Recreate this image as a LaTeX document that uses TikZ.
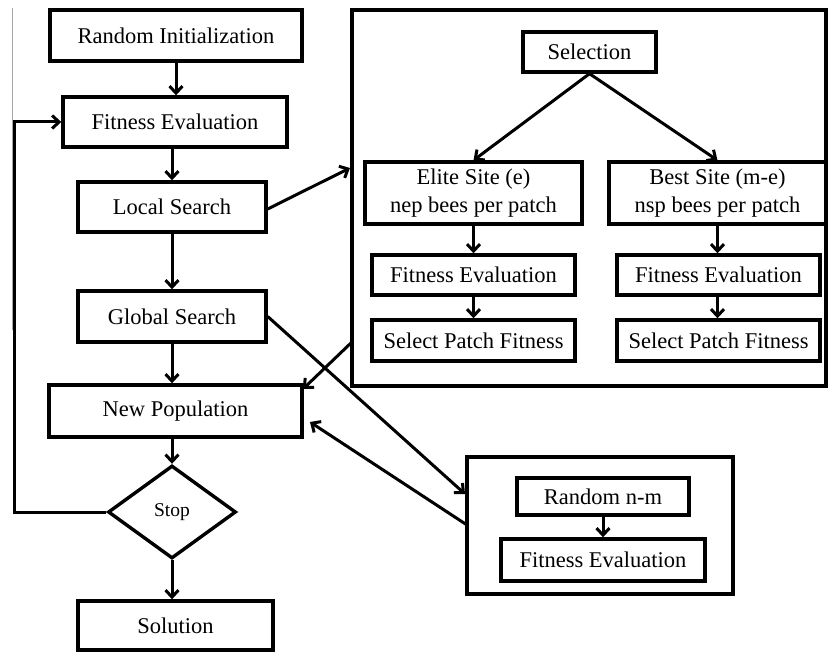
\documentclass[tikz,border=0pt]{standalone}
\usepackage{fontspec}
\setmainfont{Liberation Serif}
\usetikzlibrary{arrows.meta,shapes.geometric}
\begin{document}
\begin{tikzpicture}[x=1pt,y=-1pt,
  box/.style={draw,line width=3.4pt,rectangle,inner sep=0pt,font=\fontsize{22.5}{28}\selectfont,align=center},
  frame/.style={draw,line width=3.4pt,rectangle,inner sep=0pt},
  arr/.style={line width=3pt,-{Straight Barb[length=7pt,width=13pt,line width=3pt]}}]
\useasboundingbox (0,0) rectangle (828,652);
% scan edge line
\draw[gray!70,line width=1pt] (12,8) -- (12,330);
% main column
\node[box,minimum width=252pt,minimum height=51pt] (init) at (176,35.5) {Random Initialization};
\node[box,minimum width=224pt,minimum height=50pt] (fit) at (175,122) {Fitness Evaluation};
\node[box,minimum width=188pt,minimum height=50pt] (local) at (172,207) {Local Search};
\node[box,minimum width=188pt,minimum height=51pt] (global) at (172,316.5) {Global Search};
\node[box,minimum width=253pt,minimum height=52pt] (newpop) at (175.5,411) {New Population};
\node[draw,line width=3.4pt,diamond,inner sep=0pt,minimum width=128pt,minimum height=93pt,font=\fontsize{19.5}{22}\selectfont] (stop) at (172,512) {Stop};
\node[box,minimum width=195pt,minimum height=49pt] (sol) at (175.5,625.5) {Solution};
% right big frame
\node[frame,minimum width=474pt,minimum height=376pt] (bigR) at (589,198) {};
\node[box,minimum width=133pt,minimum height=40pt] (selc) at (589.5,52) {Selection};
\node[box,minimum width=217pt,minimum height=62pt] (elite) at (473.5,193) {Elite Site (e)\\nep bees per patch};
\node[box,minimum width=217pt,minimum height=62pt] (best) at (717.5,193) {Best Site (m-e)\\nsp bees per patch};
\node[box,minimum width=203pt,minimum height=40pt] (fitL) at (473.5,275) {Fitness Evaluation};
\node[box,minimum width=203pt,minimum height=41pt] (selL) at (473.5,340.5) {Select Patch Fitness};
\node[box,minimum width=203pt,minimum height=40pt] (fitR) at (718.5,275) {Fitness Evaluation};
\node[box,minimum width=203pt,minimum height=41pt] (selR) at (718.5,340.5) {Select Patch Fitness};
% lower right frame
\node[frame,minimum width=266pt,minimum height=137pt] (lowR) at (600,525.5) {};
\node[box,minimum width=172pt,minimum height=37pt] (rnm) at (603,496.5) {Random n-m};
\node[box,minimum width=204pt,minimum height=42pt] (fitLR) at (603,560) {Fitness Evaluation};
% coordinates on frames
\coordinate (bigIn) at (350,168);
\coordinate (bigOut) at (352,342);
\coordinate (npIn1) at (303,389);
\coordinate (lowIn) at (465,494);
\coordinate (lowOut) at (467,525);
\coordinate (npIn2) at (310,422);
\coordinate (fb) at (14,512);
% main arrows
\draw[arr] (init.south) -- (init.south |- fit.north);
\draw[arr] (local.north |- fit.south) -- (local.north);
\draw[arr] (local.south) -- (global.north);
\draw[arr] (global.south) -- (global.south |- newpop.north);
\draw[arr] (stop.north |- newpop.south) -- (stop.north);
\draw[arr] (stop.south) -- (stop.south |- sol.north);
\draw[arr] (stop.west) -- (fb) |- (fit.west);
% right frame arrows
\draw[arr] (selc.south) -- (elite.north);
\draw[arr] (selc.south) -- (best.north);
\draw[arr] (elite.south) -- (fitL.north);
\draw[arr] (fitL.south) -- (selL.north);
\draw[arr] (best.south) -- (best.south |- fitR.north);
\draw[arr] (best.south |- fitR.south) -- (best.south |- selR.north);
\draw[arr] (rnm.south) -- (fitLR.north);
% cross arrows
\draw[arr] (local.east) ++(0,2) -- (bigIn);
\draw[arr] (bigOut) -- (npIn1);
\draw[arr] (global.east) -- (lowIn);
\draw[arr] (lowOut) -- (npIn2);
\end{tikzpicture}
\end{document}
